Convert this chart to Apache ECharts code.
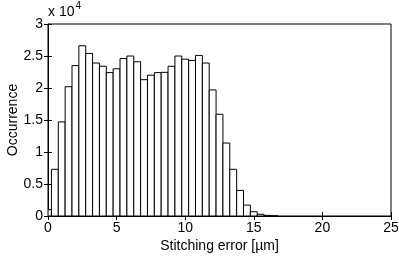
<!DOCTYPE html>
<html>
<head>
<meta charset="utf-8">
<script src="https://cdn.jsdelivr.net/npm/echarts@6/dist/echarts.min.js"></script>
<style>html,body{margin:0;padding:0;background:#fff;}#c{width:399px;height:257px;}</style>
</head>
<body>
<div id="c"></div>
<script>
// Bin centres (µm), bin width 0.5
const binCenters = [0,0.5,1,1.5,2,2.5,3,3.5,4,4.5,5,5.5,6,6.5,7,7.5,8,8.5,9,9.5,10,10.5,11,11.5,12,12.5,13,13.5,14,14.5,15,15.5,16,16.5];
const counts = [1000,7300,14700,20200,23500,26600,25400,23900,23400,22400,23000,24600,25000,24100,21300,22000,22400,22450,23400,25000,24500,24300,25100,23900,19700,15900,11400,7300,4000,1700,670,270,100,30];
const binWidth = 0.5;
const xTicks = [0,5,10,15,20,25];
const yTicks = [0,0.5,1,1.5,2,2.5,3];
const yScale = 1e4;

const font = 'Liberation Sans, Arial, Helvetica, sans-serif';
const chart = echarts.init(document.getElementById('c'), null, {renderer:'canvas'});
const data = binCenters.map((c,i)=>[c,counts[i]]);

const tickCommon = {show:true, inside:true, length:4, lineStyle:{color:'#000', width:1}};
chart.setOption({
  animation:false,
  backgroundColor:'#fff',
  grid:{left:48, right:8, top:24, bottom:41, outerBoundsMode:'none', containLabel:false, show:true, borderColor:'#000', borderWidth:1, backgroundColor:'transparent'},
  xAxis:[{
    type:'value', min:xTicks[0], max:xTicks[xTicks.length-1], interval:5,
    axisLine:{show:true, lineStyle:{color:'#000', width:1}},
    axisTick:tickCommon,
    splitLine:{show:false},
    axisLabel:{color:'#000', fontFamily:font, fontSize:14, margin:5},
    name:'Stitching error [µm]', nameLocation:'middle', nameGap:23, nameMoveOverlap:false,
    nameTextStyle:{color:'#000', fontFamily:font, fontSize:14}
  },{
    type:'value', position:'top', min:xTicks[0], max:xTicks[xTicks.length-1], interval:5,
    axisLine:{show:false}, axisTick:tickCommon, axisLabel:{show:false}, splitLine:{show:false}
  }],
  yAxis:[{
    type:'value', min:0, max:yTicks[yTicks.length-1]*yScale, interval:0.5*yScale,
    axisLine:{show:true, lineStyle:{color:'#000', width:1}},
    axisTick:tickCommon,
    splitLine:{show:false},
    axisLabel:{color:'#000', fontFamily:font, fontSize:14, margin:5, formatter:v=>String(+(v/yScale).toFixed(1))},
    name:'Occurrence', nameLocation:'middle', nameGap:28, nameRotate:90, nameMoveOverlap:false,
    nameTextStyle:{color:'#000', fontFamily:font, fontSize:14}
  },{
    type:'value', position:'right', min:0, max:yTicks[yTicks.length-1]*yScale, interval:0.5*yScale,
    axisLine:{show:false}, axisTick:tickCommon, axisLabel:{show:false}, splitLine:{show:false}
  }],
  graphic:[{
    type:'text', left:48, top:1,
    style:{text:'{a|x 10}{b|4}', rich:{a:{fontFamily:font, fontSize:14, fill:'#000', verticalAlign:'bottom'}, b:{fontFamily:font, fontSize:10, fill:'#000', verticalAlign:'top', padding:[0,0,8,1]}}}
  }],
  series:[{
    type:'custom', xAxisIndex:0, yAxisIndex:0, clip:true,
    data:data,
    renderItem:function(params, api){
      const c = api.value(0), v = api.value(1);
      const p0 = api.coord([c-binWidth/2, v]);
      const p1 = api.coord([c+binWidth/2, 0]);
      const rect = {x:p0[0], y:p0[1], width:p1[0]-p0[0], height:p1[1]-p0[1]};
      const clipped = echarts.graphic.clipRectByRect(rect, {x:params.coordSys.x, y:params.coordSys.y, width:params.coordSys.width, height:params.coordSys.height});
      if(!clipped) return null;
      return {type:'rect', shape:clipped, style:{fill:'#fff', stroke:'#000', lineWidth:1}};
    }
  }]
});
</script>
</body>
</html>
